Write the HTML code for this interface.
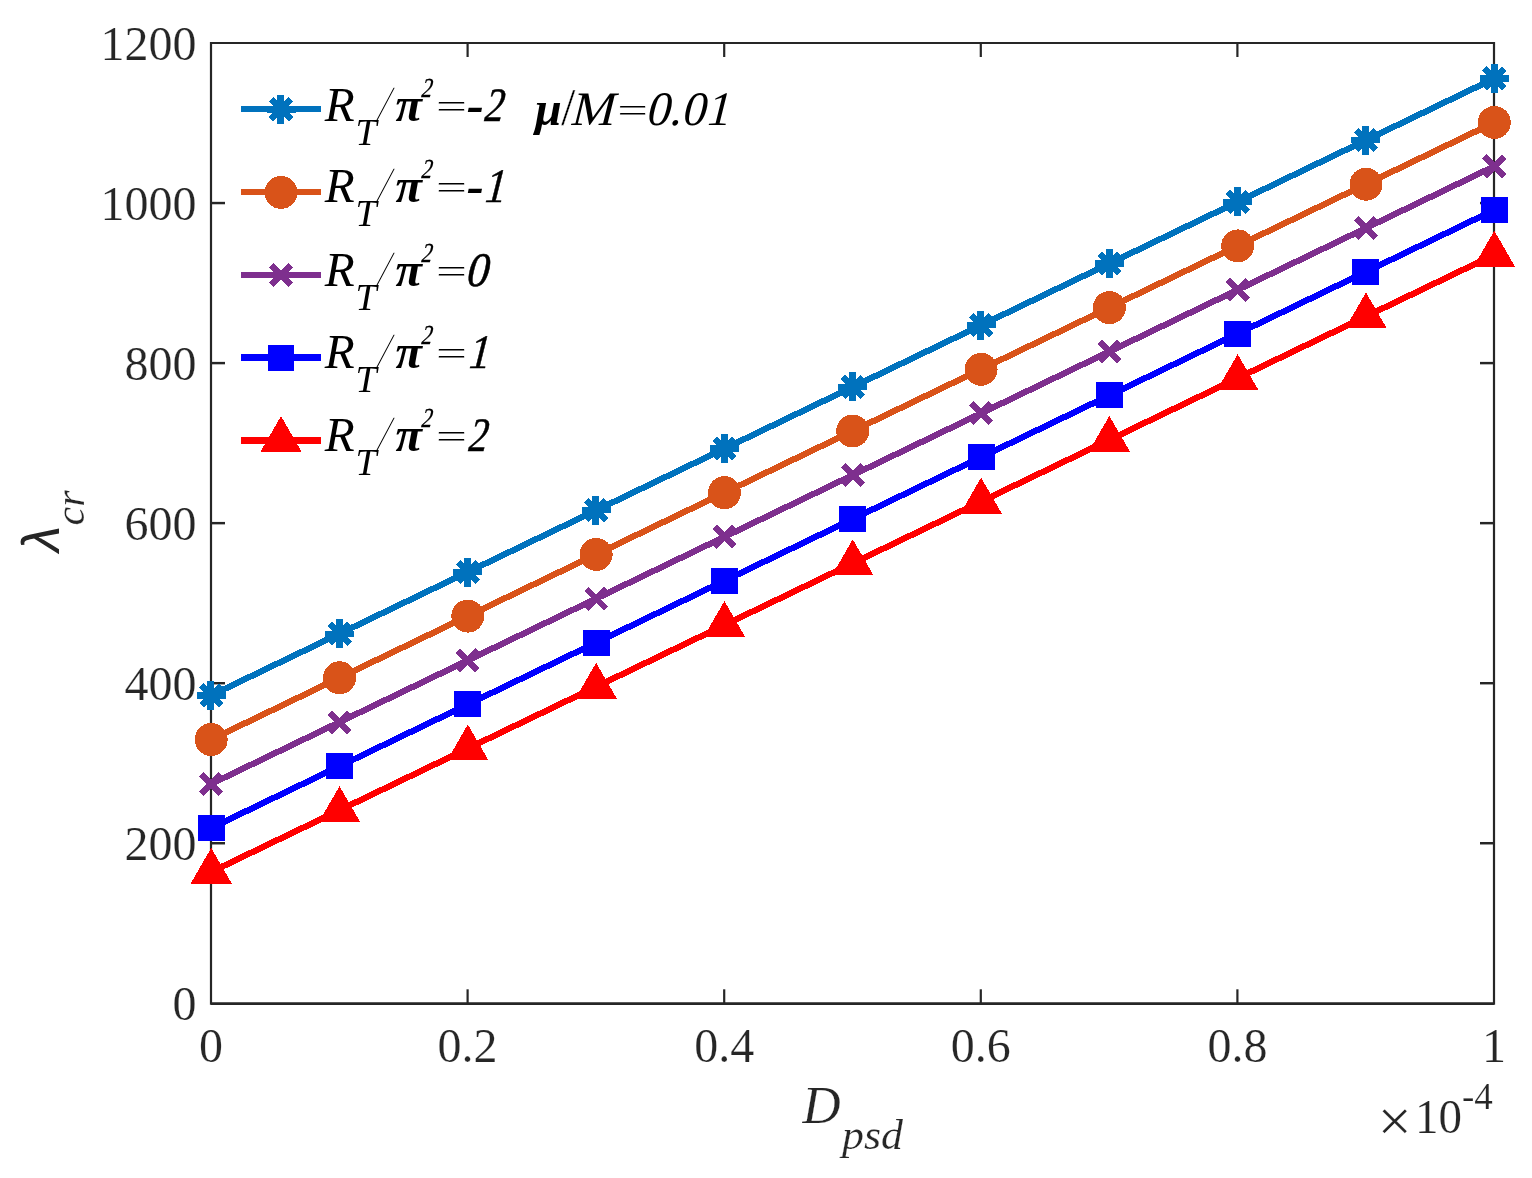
<!DOCTYPE html>
<html lang="en"><head><meta charset="utf-8"><title>Critical load vs D_psd</title>
<style>
html,body{margin:0;padding:0;background:#fff;}
body{width:1532px;height:1178px;overflow:hidden;}
svg{display:block;}
text{font-family:"Liberation Serif","DejaVu Serif",serif;}
.tk{font-size:48px;fill:#262626;stroke:#fff;stroke-width:0.2px;}
</style></head><body>
<svg width="1532" height="1178" viewBox="0 0 1532 1178">
<rect x="0" y="0" width="1532" height="1178" fill="#ffffff"/>
<g stroke="#262626" fill="none" stroke-linecap="butt">
<g stroke-width="2.2">
<path d="M211.00 41.90V1004.70"/>
<path d="M1494.00 41.90V1004.70"/>
<path d="M211.00 43.00H1494.00"/>
<path d="M467.60 1003.30V989.30"/>
<path d="M467.60 43.00V57.00"/>
<path d="M724.20 1003.30V989.30"/>
<path d="M724.20 43.00V57.00"/>
<path d="M980.80 1003.30V989.30"/>
<path d="M980.80 43.00V57.00"/>
<path d="M1237.40 1003.30V989.30"/>
<path d="M1237.40 43.00V57.00"/>
</g>
<path d="M211.00 1003.55H1494.00" stroke-width="2.8"/>
<g stroke-width="2.45">
<path d="M211.00 843.25H225.00"/>
<path d="M1494.00 843.25H1480.00"/>
<path d="M211.00 683.20H225.00"/>
<path d="M1494.00 683.20H1480.00"/>
<path d="M211.00 523.15H225.00"/>
<path d="M1494.00 523.15H1480.00"/>
<path d="M211.00 363.10H225.00"/>
<path d="M1494.00 363.10H1480.00"/>
<path d="M211.00 203.05H225.00"/>
<path d="M1494.00 203.05H1480.00"/>
</g>
</g>
<g class="tk" text-anchor="middle">
<text x="211.00" y="1062">0</text>
<text x="467.60" y="1062">0.2</text>
<text x="724.20" y="1062">0.4</text>
<text x="980.80" y="1062">0.6</text>
<text x="1237.40" y="1062">0.8</text>
<text x="1494.00" y="1062">1</text>
</g>
<g class="tk" text-anchor="end">
<text x="196.5" y="1020.30">0</text>
<text x="196.5" y="860.25">200</text>
<text x="196.5" y="700.20">400</text>
<text x="196.5" y="540.15">600</text>
<text x="196.5" y="380.10">800</text>
<text x="196.5" y="220.05">1000</text>
<text x="196.5" y="60.00">1200</text>
</g>
<g>
<text transform="translate(1377.85,1140.50)" font-size="60.00px" fill="#262626" stroke="#fff" stroke-width="0.20">×</text>
<text transform="translate(1415.07,1132.80) scale(0.9797,1.0000)" font-size="48.00px" fill="#262626" stroke="#fff" stroke-width="0.20">10</text>
<text transform="translate(1462.03,1108.70) scale(0.9645,1.0000)" font-size="38.40px" fill="#262626" stroke="#fff" stroke-width="0.20">-4</text>
</g>
<g>
<text transform="translate(802.59,1122.70) scale(0.9956,1.0000)" font-size="53.00px" font-style="italic" fill="#262626" stroke="#fff" stroke-width="0.20">D</text>
<text transform="translate(841.97,1148.80) scale(1.0343,1.0000)" font-size="42.40px" font-style="italic" fill="#262626" stroke="#fff" stroke-width="0.20">psd</text>
</g>
<g transform="translate(59.1,555.2) rotate(-90)">
<text transform="translate(0.7,0) skewX(-9)" font-size="53px" style="font-family:'Liberation Sans','DejaVu Sans',sans-serif" fill="#262626">λ</text>
<text transform="translate(29.70,24.90) scale(0.9930,1.0000)" font-size="42.40px" font-style="italic" fill="#262626" stroke="#fff" stroke-width="0.20">cr</text>
</g>
<g shape-rendering="crispEdges">
<line x1="211.20" y1="695.40" x2="1494.30" y2="78.50" stroke="#0072BD" stroke-width="6.25"/>
<path d="M210.90 680.90V709.90" stroke="#0072BD" stroke-width="7" fill="none"/><path d="M196.70 695.40H225.70M201.30 685.50L221.10 705.30M201.30 705.30L221.10 685.50" stroke="#0072BD" stroke-width="6.3" fill="none"/>
<path d="M339.21 619.21V648.21" stroke="#0072BD" stroke-width="7" fill="none"/><path d="M325.01 633.71H354.01M329.61 623.81L349.41 643.61M329.61 643.61L349.41 623.81" stroke="#0072BD" stroke-width="6.3" fill="none"/>
<path d="M467.52 557.52V586.52" stroke="#0072BD" stroke-width="7" fill="none"/><path d="M453.32 572.02H482.32M457.92 562.12L477.72 581.92M457.92 581.92L477.72 562.12" stroke="#0072BD" stroke-width="6.3" fill="none"/>
<path d="M595.83 495.83V524.83" stroke="#0072BD" stroke-width="7" fill="none"/><path d="M581.63 510.33H610.63M586.23 500.43L606.03 520.23M586.23 520.23L606.03 500.43" stroke="#0072BD" stroke-width="6.3" fill="none"/>
<path d="M724.14 434.14V463.14" stroke="#0072BD" stroke-width="7" fill="none"/><path d="M709.94 448.64H738.94M714.54 438.74L734.34 458.54M714.54 458.54L734.34 438.74" stroke="#0072BD" stroke-width="6.3" fill="none"/>
<path d="M852.45 372.45V401.45" stroke="#0072BD" stroke-width="7" fill="none"/><path d="M838.25 386.95H867.25M842.85 377.05L862.65 396.85M842.85 396.85L862.65 377.05" stroke="#0072BD" stroke-width="6.3" fill="none"/>
<path d="M980.76 310.76V339.76" stroke="#0072BD" stroke-width="7" fill="none"/><path d="M966.56 325.26H995.56M971.16 315.36L990.96 335.16M971.16 335.16L990.96 315.36" stroke="#0072BD" stroke-width="6.3" fill="none"/>
<path d="M1109.07 249.07V278.07" stroke="#0072BD" stroke-width="7" fill="none"/><path d="M1094.87 263.57H1123.87M1099.47 253.67L1119.27 273.47M1099.47 273.47L1119.27 253.67" stroke="#0072BD" stroke-width="6.3" fill="none"/>
<path d="M1237.38 187.38V216.38" stroke="#0072BD" stroke-width="7" fill="none"/><path d="M1223.18 201.88H1252.18M1227.78 191.98L1247.58 211.78M1227.78 211.78L1247.58 191.98" stroke="#0072BD" stroke-width="6.3" fill="none"/>
<path d="M1365.69 125.69V154.69" stroke="#0072BD" stroke-width="7" fill="none"/><path d="M1351.49 140.19H1380.49M1356.09 130.29L1375.89 150.09M1356.09 150.09L1375.89 130.29" stroke="#0072BD" stroke-width="6.3" fill="none"/>
<path d="M1494.00 64.00V93.00" stroke="#0072BD" stroke-width="7" fill="none"/><path d="M1479.80 78.50H1508.80M1484.40 68.60L1504.20 88.40M1484.40 88.40L1504.20 68.60" stroke="#0072BD" stroke-width="6.3" fill="none"/>
</g>
<g shape-rendering="crispEdges">
<line x1="211.20" y1="739.50" x2="1494.30" y2="122.50" stroke="#D95319" stroke-width="6.25"/>
<circle cx="211.20" cy="739.50" r="16.5" fill="#D95319"/>
<circle cx="339.51" cy="677.80" r="16.5" fill="#D95319"/>
<circle cx="467.82" cy="616.10" r="16.5" fill="#D95319"/>
<circle cx="596.13" cy="554.40" r="16.5" fill="#D95319"/>
<circle cx="724.44" cy="492.70" r="16.5" fill="#D95319"/>
<circle cx="852.75" cy="431.00" r="16.5" fill="#D95319"/>
<circle cx="981.06" cy="369.30" r="16.5" fill="#D95319"/>
<circle cx="1109.37" cy="307.60" r="16.5" fill="#D95319"/>
<circle cx="1237.68" cy="245.90" r="16.5" fill="#D95319"/>
<circle cx="1365.99" cy="184.20" r="16.5" fill="#D95319"/>
<circle cx="1494.30" cy="122.50" r="16.5" fill="#D95319"/>
</g>
<g shape-rendering="crispEdges">
<line x1="211.20" y1="783.90" x2="1494.30" y2="166.30" stroke="#7E2F8E" stroke-width="6.25"/>
<path d="M201.40 774.10L221.00 793.70M201.40 793.70L221.00 774.10" stroke="#7E2F8E" stroke-width="6.3" fill="none"/>
<path d="M329.71 712.34L349.31 731.94M329.71 731.94L349.31 712.34" stroke="#7E2F8E" stroke-width="6.3" fill="none"/>
<path d="M458.02 650.58L477.62 670.18M458.02 670.18L477.62 650.58" stroke="#7E2F8E" stroke-width="6.3" fill="none"/>
<path d="M586.33 588.82L605.93 608.42M586.33 608.42L605.93 588.82" stroke="#7E2F8E" stroke-width="6.3" fill="none"/>
<path d="M714.64 527.06L734.24 546.66M714.64 546.66L734.24 527.06" stroke="#7E2F8E" stroke-width="6.3" fill="none"/>
<path d="M842.95 465.30L862.55 484.90M842.95 484.90L862.55 465.30" stroke="#7E2F8E" stroke-width="6.3" fill="none"/>
<path d="M971.26 403.54L990.86 423.14M971.26 423.14L990.86 403.54" stroke="#7E2F8E" stroke-width="6.3" fill="none"/>
<path d="M1099.57 341.78L1119.17 361.38M1099.57 361.38L1119.17 341.78" stroke="#7E2F8E" stroke-width="6.3" fill="none"/>
<path d="M1227.88 280.02L1247.48 299.62M1227.88 299.62L1247.48 280.02" stroke="#7E2F8E" stroke-width="6.3" fill="none"/>
<path d="M1356.19 218.26L1375.79 237.86M1356.19 237.86L1375.79 218.26" stroke="#7E2F8E" stroke-width="6.3" fill="none"/>
<path d="M1484.50 156.50L1504.10 176.10M1484.50 176.10L1504.10 156.50" stroke="#7E2F8E" stroke-width="6.3" fill="none"/>
</g>
<g shape-rendering="crispEdges">
<line x1="211.20" y1="828.00" x2="1494.30" y2="210.00" stroke="#0000FF" stroke-width="6.25"/>
<rect x="197.70" y="815.00" width="27" height="26" fill="#0000FF"/>
<rect x="326.01" y="753.20" width="27" height="26" fill="#0000FF"/>
<rect x="454.32" y="691.40" width="27" height="26" fill="#0000FF"/>
<rect x="582.63" y="629.60" width="27" height="26" fill="#0000FF"/>
<rect x="710.94" y="567.80" width="27" height="26" fill="#0000FF"/>
<rect x="839.25" y="506.00" width="27" height="26" fill="#0000FF"/>
<rect x="967.56" y="444.20" width="27" height="26" fill="#0000FF"/>
<rect x="1095.87" y="382.40" width="27" height="26" fill="#0000FF"/>
<rect x="1224.18" y="320.60" width="27" height="26" fill="#0000FF"/>
<rect x="1352.49" y="258.80" width="27" height="26" fill="#0000FF"/>
<rect x="1480.80" y="197.00" width="27" height="26" fill="#0000FF"/>
</g>
<g shape-rendering="crispEdges">
<line x1="211.20" y1="871.90" x2="1494.30" y2="254.70" stroke="#FF0000" stroke-width="6.25"/>
<path d="M211.20 847.90L231.98 883.90L190.42 883.90Z" fill="#FF0000"/>
<path d="M339.51 786.18L360.29 822.18L318.73 822.18Z" fill="#FF0000"/>
<path d="M467.82 724.46L488.60 760.46L447.04 760.46Z" fill="#FF0000"/>
<path d="M596.13 662.74L616.91 698.74L575.35 698.74Z" fill="#FF0000"/>
<path d="M724.44 601.02L745.22 637.02L703.66 637.02Z" fill="#FF0000"/>
<path d="M852.75 539.30L873.53 575.30L831.97 575.30Z" fill="#FF0000"/>
<path d="M981.06 477.58L1001.84 513.58L960.28 513.58Z" fill="#FF0000"/>
<path d="M1109.37 415.86L1130.15 451.86L1088.59 451.86Z" fill="#FF0000"/>
<path d="M1237.68 354.14L1258.46 390.14L1216.90 390.14Z" fill="#FF0000"/>
<path d="M1365.99 292.42L1386.77 328.42L1345.21 328.42Z" fill="#FF0000"/>
<path d="M1494.30 230.70L1515.08 266.70L1473.52 266.70Z" fill="#FF0000"/>
</g>
<g shape-rendering="crispEdges">
<line x1="241" y1="109.00" x2="321.1" y2="109.00" stroke="#0072BD" stroke-width="6.40"/>
<path d="M280.70 94.90V123.90" stroke="#0072BD" stroke-width="7" fill="none"/><path d="M266.50 109.40H295.50M271.10 99.50L290.90 119.30M271.10 119.30L290.90 99.50" stroke="#0072BD" stroke-width="6.3" fill="none"/>
</g>
<g>
<text transform="translate(377.59,119.80) scale(1.0836,1.0450)" font-size="48.00px" font-style="italic" fill="#000" stroke="#fff" stroke-width="1.35">/</text>
<text transform="translate(436.07,117.66) scale(1.6309,1.0000)" font-size="33.60px" fill="#000" stroke="#fff" stroke-width="0.20">=</text>
<text transform="translate(324.66,120.90) scale(1.0215,1.0000)" font-size="48.00px" font-style="italic" fill="#000">R</text>
<text transform="translate(355.62,145.10) scale(0.9852,1.0000)" font-size="38.40px" font-style="italic" fill="#000">T</text>
<text transform="translate(395.49,120.90) scale(1.0108,1.0000)" font-size="48.00px" font-style="italic" font-weight="bold" fill="#000">π</text>
<text transform="translate(420.16,97.05) skewX(-14.00) scale(0.7826,1.0000)" font-size="27.40px" fill="#000" stroke="#000" stroke-width="0.35" stroke-linejoin="round">2</text>
<text transform="translate(466.82,120.90) scale(1.0723,1.0000)" font-size="48.00px" font-style="italic" font-weight="bold" fill="#000">-</text>
<text transform="translate(482.14,120.90) skewX(-14.00) scale(0.8102,1.0000)" font-size="48.00px" fill="#000" stroke="#000" stroke-width="0.50" stroke-linejoin="round">2</text>
</g>
<g shape-rendering="crispEdges">
<line x1="241" y1="191.90" x2="321.1" y2="191.90" stroke="#D95319" stroke-width="6.40"/>
<circle cx="281.00" cy="192.40" r="16.5" fill="#D95319"/>
</g>
<g>
<text transform="translate(377.59,200.80) scale(1.0836,1.0450)" font-size="48.00px" font-style="italic" fill="#000" stroke="#fff" stroke-width="1.35">/</text>
<text transform="translate(436.07,198.66) scale(1.6309,1.0000)" font-size="33.60px" fill="#000" stroke="#fff" stroke-width="0.20">=</text>
<text transform="translate(324.66,201.90) scale(1.0215,1.0000)" font-size="48.00px" font-style="italic" fill="#000">R</text>
<text transform="translate(355.62,226.10) scale(0.9852,1.0000)" font-size="38.40px" font-style="italic" fill="#000">T</text>
<text transform="translate(395.49,201.90) scale(1.0108,1.0000)" font-size="48.00px" font-style="italic" font-weight="bold" fill="#000">π</text>
<text transform="translate(420.16,178.05) skewX(-14.00) scale(0.7826,1.0000)" font-size="27.40px" fill="#000" stroke="#000" stroke-width="0.35" stroke-linejoin="round">2</text>
<text transform="translate(466.82,201.90) scale(1.0723,1.0000)" font-size="48.00px" font-style="italic" font-weight="bold" fill="#000">-</text>
<text transform="translate(482.30,201.90) skewX(-14.00) scale(0.8781,1.0000)" font-size="48.00px" fill="#000" stroke="#000" stroke-width="0.50" stroke-linejoin="round">1</text>
</g>
<g shape-rendering="crispEdges">
<line x1="241" y1="275.00" x2="321.1" y2="275.00" stroke="#7E2F8E" stroke-width="6.40"/>
<path d="M271.20 265.30L290.80 284.90M271.20 284.90L290.80 265.30" stroke="#7E2F8E" stroke-width="6.3" fill="none"/>
</g>
<g>
<text transform="translate(377.59,284.80) scale(1.0836,1.0450)" font-size="48.00px" font-style="italic" fill="#000" stroke="#fff" stroke-width="1.35">/</text>
<text transform="translate(436.07,282.66) scale(1.6309,1.0000)" font-size="33.60px" fill="#000" stroke="#fff" stroke-width="0.20">=</text>
<text transform="translate(324.66,285.90) scale(1.0215,1.0000)" font-size="48.00px" font-style="italic" fill="#000">R</text>
<text transform="translate(355.62,310.10) scale(0.9852,1.0000)" font-size="38.40px" font-style="italic" fill="#000">T</text>
<text transform="translate(395.49,285.90) scale(1.0108,1.0000)" font-size="48.00px" font-style="italic" font-weight="bold" fill="#000">π</text>
<text transform="translate(420.16,262.05) skewX(-14.00) scale(0.7826,1.0000)" font-size="27.40px" fill="#000" stroke="#000" stroke-width="0.35" stroke-linejoin="round">2</text>
<text transform="translate(464.33,285.90) skewX(-14.00) scale(0.9368,1.0000)" font-size="48.00px" fill="#000" stroke="#000" stroke-width="0.50" stroke-linejoin="round">0</text>
</g>
<g shape-rendering="crispEdges">
<line x1="241" y1="357.40" x2="321.1" y2="357.40" stroke="#0000FF" stroke-width="6.40"/>
<rect x="268.00" y="345.00" width="26" height="26" fill="#0000FF"/>
</g>
<g>
<text transform="translate(377.59,366.80) scale(1.0836,1.0450)" font-size="48.00px" font-style="italic" fill="#000" stroke="#fff" stroke-width="1.35">/</text>
<text transform="translate(436.07,364.66) scale(1.6309,1.0000)" font-size="33.60px" fill="#000" stroke="#fff" stroke-width="0.20">=</text>
<text transform="translate(324.66,367.90) scale(1.0215,1.0000)" font-size="48.00px" font-style="italic" fill="#000">R</text>
<text transform="translate(355.62,392.10) scale(0.9852,1.0000)" font-size="38.40px" font-style="italic" fill="#000">T</text>
<text transform="translate(395.49,367.90) scale(1.0108,1.0000)" font-size="48.00px" font-style="italic" font-weight="bold" fill="#000">π</text>
<text transform="translate(420.16,344.05) skewX(-14.00) scale(0.7826,1.0000)" font-size="27.40px" fill="#000" stroke="#000" stroke-width="0.35" stroke-linejoin="round">2</text>
<text transform="translate(466.23,367.90) skewX(-14.00) scale(0.8829,1.0000)" font-size="48.00px" fill="#000" stroke="#000" stroke-width="0.50" stroke-linejoin="round">1</text>
</g>
<g shape-rendering="crispEdges">
<line x1="241" y1="440.50" x2="321.1" y2="440.50" stroke="#FF0000" stroke-width="6.40"/>
<path d="M281.00 416.10L301.78 452.10L260.22 452.10Z" fill="#FF0000"/>
</g>
<g>
<text transform="translate(377.59,449.80) scale(1.0836,1.0450)" font-size="48.00px" font-style="italic" fill="#000" stroke="#fff" stroke-width="1.35">/</text>
<text transform="translate(436.07,447.66) scale(1.6309,1.0000)" font-size="33.60px" fill="#000" stroke="#fff" stroke-width="0.20">=</text>
<text transform="translate(324.66,450.90) scale(1.0215,1.0000)" font-size="48.00px" font-style="italic" fill="#000">R</text>
<text transform="translate(355.62,475.10) scale(0.9852,1.0000)" font-size="38.40px" font-style="italic" fill="#000">T</text>
<text transform="translate(395.49,450.90) scale(1.0108,1.0000)" font-size="48.00px" font-style="italic" font-weight="bold" fill="#000">π</text>
<text transform="translate(420.16,427.05) skewX(-14.00) scale(0.7826,1.0000)" font-size="27.40px" fill="#000" stroke="#000" stroke-width="0.35" stroke-linejoin="round">2</text>
<text transform="translate(466.17,450.90) skewX(-14.00) scale(0.8025,1.0000)" font-size="48.00px" fill="#000" stroke="#000" stroke-width="0.50" stroke-linejoin="round">2</text>
</g>
<g>
<text transform="translate(560.90,125.40) scale(1.0798,1.0850)" font-size="48.00px" fill="#000" stroke="#fff" stroke-width="0.40">/</text>
<text transform="translate(617.19,121.66) scale(1.6181,1.0000)" font-size="33.60px" fill="#000" stroke="#fff" stroke-width="0.20">=</text>
<text transform="translate(534.94,124.70) scale(1.0013,1.0000)" font-size="48.00px" font-style="italic" font-weight="bold" fill="#000">μ</text>
<text transform="translate(569.50,124.70) skewX(-14.00) scale(1.0119,1.0000)" font-size="48.00px" fill="#000">M</text>
<text transform="translate(644.77,124.70) skewX(-14.00) scale(0.9951,1.0000)" font-size="48.00px" fill="#000">0.01</text>
</g>
</svg></body></html>
